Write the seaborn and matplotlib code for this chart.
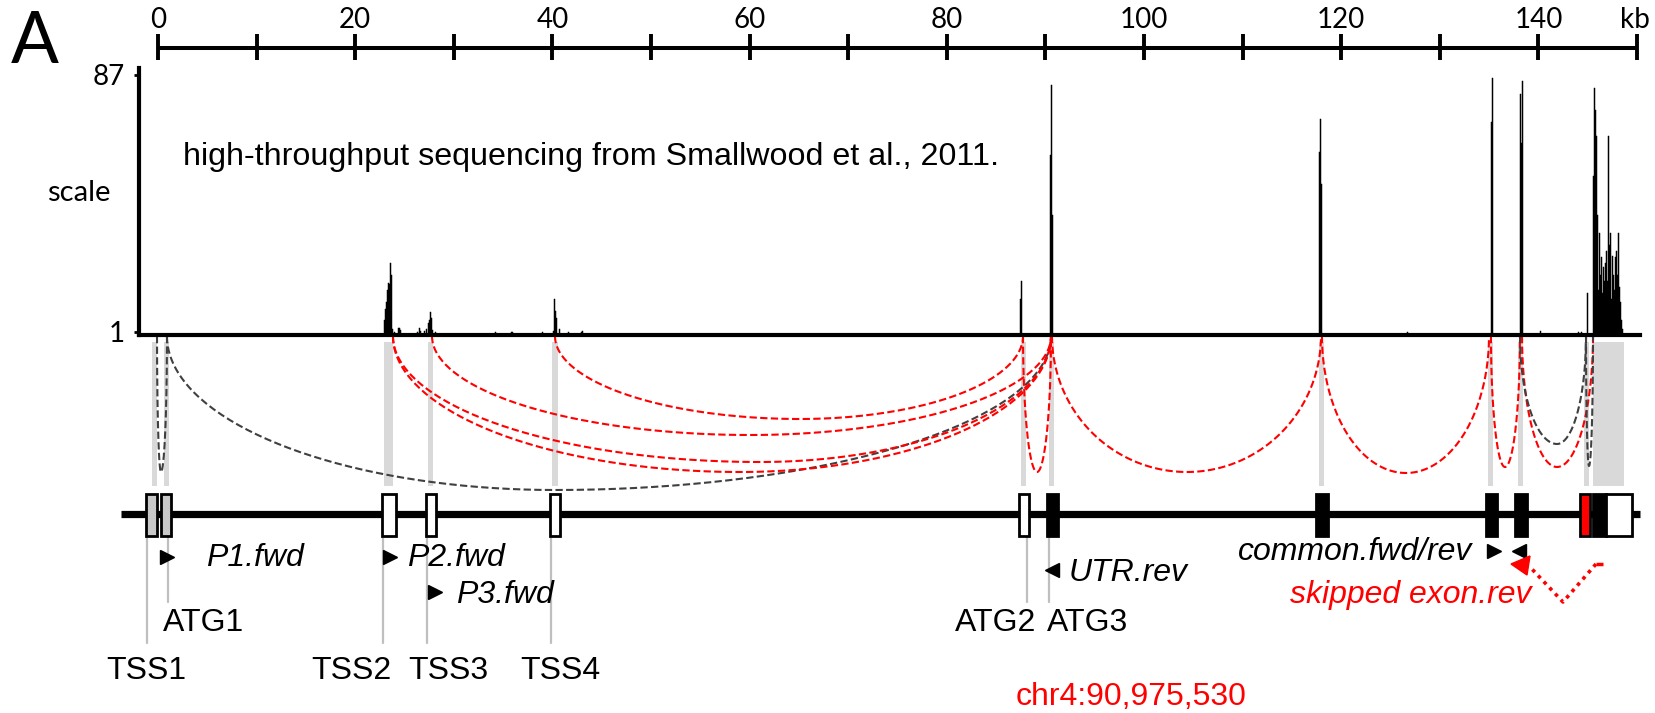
import numpy as np
import pandas as pd
import matplotlib
matplotlib.use("Agg")
import matplotlib.pyplot as plt
import seaborn as sns
from matplotlib.patches import Rectangle, Polygon

# ------------------------------------------------------------------ data
scale_tick_kb = [0, 10, 20, 30, 40, 50, 60, 70, 80, 90, 100, 110, 120, 130, 140, 150]
scale_label_kb = [0, 20, 40, 60, 80, 100, 120, 140]
scale_labels = ["0", "20", "40", "60", "80", "100", "120", "140"]

cov_kb = [23.0, 23.1, 23.2, 23.3, 23.4, 23.5, 23.6, 23.7, 23.8, 24.0, 24.4, 24.5, 24.6,
          26.3, 26.5, 26.6, 27.0, 27.2, 27.4, 27.5, 27.6, 27.7, 27.8, 28.1,
          34.2, 35.9, 36.0, 39.0, 40.1, 40.2, 40.3, 40.4, 40.7, 41.6, 43.0, 43.1,
          87.5, 87.6, 90.5, 90.6, 90.7, 117.8, 117.9, 118.0, 126.7,
          135.2, 135.3, 138.2, 138.3, 138.4, 140.2, 144.1, 144.4, 145.0,
          145.6, 145.7, 145.8, 145.9, 146.0, 146.1, 146.2, 146.3, 146.4, 146.5,
          146.6, 146.7, 146.8, 146.9, 147.0, 147.1, 147.2, 147.3, 147.4, 147.5,
          147.6, 147.7, 147.8, 147.9, 148.0, 148.1, 148.2, 148.3, 148.4, 148.5]
cov_val = [5, 8.7, 11, 15, 17.4, 17, 23.8, 20, 2, 1, 2.3, 2.3, 1.5,
           1.0, 2.3, 1.2, 1.3, 2, 3.7, 5, 7.4, 5.5, 1.5, 0.8,
           0.8, 0.8, 0.8, 0.8, 1.2, 12, 8, 5.4, 1.7, 1, 0.8, 1.2,
           12, 18, 60, 83.5, 40, 61, 72, 50.5, 0.8,
           71, 86, 80.6, 64, 85, 1.2, 0.8, 0.8, 14,
           53, 82.5, 75, 66.6, 40, 15, 34, 20, 26, 14,
           22.5, 18, 24, 28, 18, 66.6, 30, 34, 12, 26.4,
           20, 15, 26, 28, 20, 34, 16, 11, 4.7, 2]

exon_start = [-1.22, 0.30, 22.72, 27.18, 39.76, 87.32, 90.16, 117.44, 134.69, 137.63, 144.22, 145.54, 146.86]
exon_end = [-0.10, 1.32, 24.14, 28.19, 40.77, 88.34, 91.28, 118.66, 135.80, 138.84, 145.23, 146.86, 149.49]
exon_fill = ["#c8c8c8", "#c8c8c8", "white", "white", "white", "white", "black",
             "black", "black", "black", "#ff0000", "black", "white"]

shade_start = [-0.61, 0.61, 22.92, 27.38, 39.96, 87.53, 90.37, 117.75, 134.89, 137.93, 144.62, 145.54]
shade_end = [-0.10, 1.12, 23.83, 27.89, 40.57, 88.03, 90.87, 118.26, 135.40, 138.44, 145.13, 148.68]

arc_start = [-0.10, 0.91, 23.83, 23.83, 27.79, 40.26, 87.73, 90.67, 118.05, 135.19, 138.34, 138.13, 144.83]
arc_end = [0.91, 90.57, 90.57, 90.57, 90.57, 87.73, 90.57, 117.95, 134.99, 138.13, 145.54, 144.83, 145.54]
arc_low_kb = [0.30, 40.26, 61.05, 59.03, 60.04, 65.11, 89.15, 104.36, 126.57, 136.61, 141.89, 141.89, 145.13]
arc_depth = [136, 154, 126, 136, 99, 83, 136, 136, 137, 131, 131, 108, 130]
arc_kind = ["other", "other", "major", "major", "major", "major", "major", "major",
            "major", "major", "major", "other", "other"]

site_names = ["TSS1", "ATG1", "TSS2", "TSS3", "TSS4", "ATG2", "ATG3"]
site_kb = [-1.12, 1.01, 22.82, 27.28, 39.86, 88.14, 90.37]

primer_names = ["P1.fwd", "P2.fwd", "P3.fwd", "UTR.rev", "common.fwd/rev"]
primer_kb = [0.88, 23.58, 28.14, 90.67, 135.45, 138.03]
primer_dir = [">", ">", ">", "<", ">", "<"]

# ------------------------------------------------------------------ layout
W, H = 1656, 713
PX0, PXKB = 158.0, 9.86


def X(px):
    return (px - PX0) / PXKB


sns.set_theme(style="white")
plt.rcParams["font.family"] = ["Liberation Sans", "DejaVu Sans"]
plt.rcParams["text.color"] = "black"
plt.rcParams["axes.labelcolor"] = "black"
plt.rcParams["xtick.color"] = "black"
plt.rcParams["ytick.color"] = "black"
CAL = "Lato"
RED = "#ff0000"
DGRAY = "#404040"
FS = 23

fig = plt.figure(figsize=(W / 100, H / 100), dpi=100)
ax = fig.add_axes([0, 0, 1, 1])
ax.set_xlim(X(0), X(W))
ax.set_ylim(H, 0)
ax.axis("off")

# panel letter
ax.text(X(11), 63, "A", fontsize=51, family=CAL, color="black", ha="left", va="baseline")

# top kb scale
ax.plot([scale_tick_kb[0], scale_tick_kb[-1]], [47.5, 47.5], color="black", lw=2.9,
        solid_capstyle="butt")
ax.vlines(scale_tick_kb, 34, 60, color="black", lw=2.8)
for k, lab in zip(scale_label_kb, scale_labels):
    ax.text(k, 28, lab, fontsize=20, family=CAL, color="black", ha="center", va="baseline")
ax.text(X(1620), 28, "kb", fontsize=20, family=CAL, color="black", ha="left", va="baseline")

# coverage track (seaborn histogram weighted by coverage)
cax = fig.add_axes([139.5 / W, 1 - 334.5 / H, (1640 - 139.5) / W, (334.5 - 68) / H])
cax.patch.set_alpha(0)
df = pd.DataFrame({"kb": cov_kb, "cov": cov_val})
sns.histplot(data=df, x="kb", weights="cov", binwidth=0.1, binrange=(-2.05, 150.25),
             color="black", alpha=1, element="bars", fill=True, edgecolor="black",
             linewidth=0.35, ax=cax)
cax.set_xlim(X(139.5), X(1640))
cax.set_ylim(0, 89.2)
for s in ["top", "right"]:
    cax.spines[s].set_visible(False)
for s in ["left", "bottom"]:
    cax.spines[s].set_linewidth(3)
    cax.spines[s].set_color("black")
cax.set_xticks([])
cax.set_yticks([1, 87])
cax.set_yticklabels(["1", "87"], family=CAL, fontsize=20, color="black")
cax.tick_params(axis="y", length=3.5, width=2, pad=7, left=True, color="black")
cax.set_xlabel("")
cax.set_ylabel("")
ax.text(X(79), 193, "scale", fontsize=21, family=CAL, ha="center", va="center")
ax.text(X(183), 157, "high-throughput sequencing from Smallwood et al., 2011.",
        fontsize=23.2, ha="left", va="center")

# junction shading
for s, e in zip(shade_start, shade_end):
    ax.add_patch(Rectangle((s, 342), e - s, 144, facecolor="#d9d9d9", edgecolor="none", zorder=1))

# splice junction arcs (two quarter ellipses each)
Y0 = 336
t = np.linspace(0, np.pi / 2, 80)
for s, e, lo, d, kind in zip(arc_start, arc_end, arc_low_kb, arc_depth, arc_kind):
    xl = lo - (lo - s) * np.cos(t)
    yl = Y0 + d * np.sin(t)
    xr = lo + (e - lo) * np.cos(t[::-1])
    yr = Y0 + d * np.sin(t[::-1])
    xs = np.concatenate([xl, xr])
    ys = np.concatenate([yl, yr])
    col = RED if kind == "major" else DGRAY
    ax.plot(xs, ys, color=col, lw=1.5, ls=(0, (3.5, 1.6)), zorder=3)

# gene model
ax.plot([X(121), X(1640)], [513.5, 513.5], color="black", lw=5.2, solid_capstyle="butt", zorder=4)
for s, e, f in zip(exon_start, exon_end, exon_fill):
    ax.add_patch(Rectangle((s, 494), e - s, 42, facecolor=f, edgecolor="black", lw=2, zorder=5))

# leader lines and site labels
leader_bottom = [643, 602, 643, 643, 643, 602, 602]
for k, b in zip(site_kb, leader_bottom):
    ax.plot([k, k], [537, b], color="#bfbfbf", lw=1.6, zorder=2)
site_txt_x = [146, 163, 351, 448, 560, 996, 1088]
site_txt_ha = ["center", "left", "center", "center", "center", "center", "center"]
site_txt_y = [671, 623, 671, 671, 671, 623, 623]
for n, xp, ha, yp in zip(site_names, site_txt_x, site_txt_ha, site_txt_y):
    ax.text(X(xp), yp, n, fontsize=FS, ha=ha, va="center")

# primers
primer_y = [557, 557, 592, 570, 551, 551]
for k, y, m in zip(primer_kb, primer_y, primer_dir):
    ax.plot(k, y, marker=m, ms=10.5, color="black", mec="black", ls="none", zorder=6)
ax.text(X(206), 558, primer_names[0], fontsize=FS, style="italic", ha="left", va="center")
ax.text(X(407), 558, primer_names[1], fontsize=FS, style="italic", ha="left", va="center")
ax.text(X(456), 595, primer_names[2], fontsize=FS, style="italic", ha="left", va="center")
ax.text(X(1069), 573, primer_names[3], fontsize=FS, style="italic", ha="left", va="center")
ax.text(X(1472), 552, primer_names[4], fontsize=FS, style="italic", ha="right", va="center")
ax.text(X(1290), 595, "skipped exon.rev", fontsize=FS, style="italic", color=RED,
        ha="left", va="center")

# skipped exon primer arrow
ax.plot([X(1596), X(1603)], [563.5, 563.5], color=RED, lw=2.5, solid_capstyle="butt", zorder=6)
ax.plot([X(1596), X(1563), X(1530)], [564, 602, 567], color=RED, lw=2.6,
        ls=(0, (1, 1.3)), zorder=6)
ax.add_patch(Polygon([[X(1511), 564], [X(1530), 556], [X(1527), 575]], closed=True,
                     facecolor=RED, edgecolor=RED, lw=1, zorder=6))

ax.text(X(1016), 697, "chr4:90,975,530", fontsize=FS, color=RED, ha="left", va="center")

fig.savefig("out.png", dpi=100)
